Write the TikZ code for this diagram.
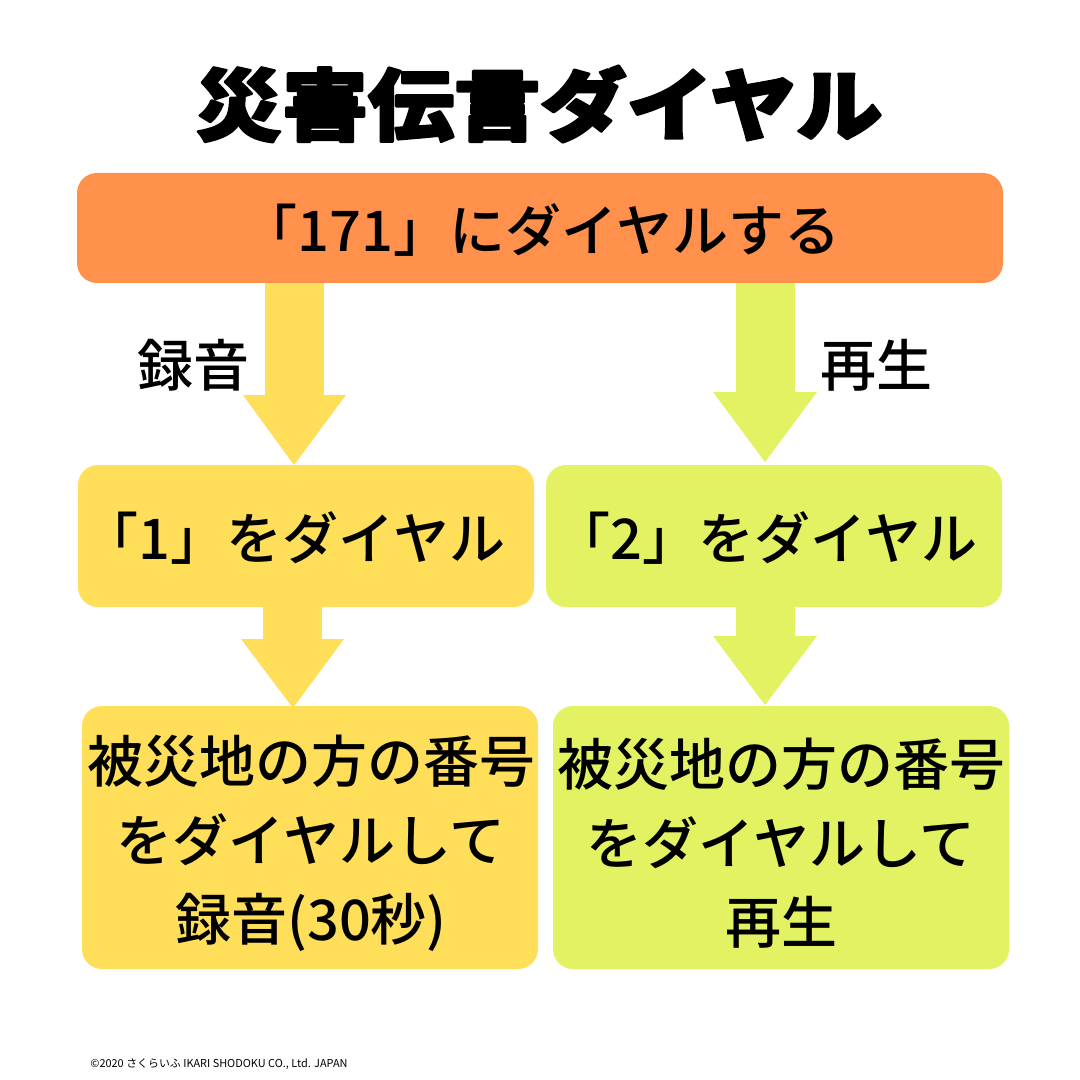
\documentclass[tikz,border=0pt]{standalone}
\usepackage{fontspec}
\setmainfont{Noto Sans CJK JP}
\newfontfamily\titlefont[FakeBold=3]{Noto Sans CJK JP Black}
\newfontfamily\labelfont{Noto Sans CJK JP Medium}
\newfontfamily\smallfont{Noto Sans CJK JP}
\definecolor{orangebox}{HTML}{FF914D}
\definecolor{yellowbox}{HTML}{FFDE59}
\definecolor{limebox}{HTML}{E2F263}
\tikzset{x=0.75pt,y=-0.75pt,
 flowbox/.style={rounded corners=15pt},
 boxtext/.style={align=center,inner sep=0pt,text=black,font=\labelfont\fontsize{42}{59.2}\selectfont}}
\begin{document}
\begin{tikzpicture}
\useasboundingbox (0,0) rectangle (1080,1080);
\fill[white] (0,0) rectangle (1080,1080);
\fill[yellowbox] (265,280) rectangle (324,396);
\fill[yellowbox] (243,395) -- (346,395) -- (294,465) -- cycle;
\fill[limebox] (736,280) rectangle (795,393);
\fill[limebox] (713,392) -- (817,392) -- (765,462) -- cycle;
\fill[yellowbox] (263,605) rectangle (322,640);
\fill[yellowbox] (241,639) -- (344,639) -- (293,708) -- cycle;
\fill[limebox] (736,605) rectangle (795,637);
\fill[limebox] (713,636) -- (817,636) -- (765,705) -- cycle;
\fill[orangebox,flowbox] (77,173) rectangle (1003,283);
\fill[yellowbox,flowbox] (78,465) rectangle (534,607);
\fill[limebox,flowbox] (546,465) rectangle (1002,607);
\fill[yellowbox,flowbox] (82,706) rectangle (538,969);
\fill[limebox,flowbox] (553,706) rectangle (1009,969);
\node[font=\titlefont\fontsize{64}{64}\selectfont,inner sep=0pt,transform shape,xscale=1.01,yscale=0.92] (title) at (539,104) {\pgfsetroundjoin 災害伝言ダイヤル};
\node[boxtext] (a) at (541,230) {「171」にダイヤルする};
\node[boxtext] (b) at (193,365) {録音};
\node[boxtext] (c) at (876,365) {再生};
\node[boxtext] (d) at (294,538) {「1」をダイヤル};
\node[boxtext] (e) at (766,538) {「2」をダイヤル};
\node[boxtext] (f) at (311,843) {被災地の方の番号\\をダイヤルして\\録音(30秒)};
\node[boxtext] (g) at (781,843) {被災地の方の番号\\をダイヤルして\\再生};
\node[font=\smallfont\fontsize{8.2}{8.2}\selectfont,inner sep=0pt] (h) at (219,1064) {©2020 さくらいふ IKARI SHODOKU CO., Ltd. JAPAN};
\end{tikzpicture}
\end{document}
